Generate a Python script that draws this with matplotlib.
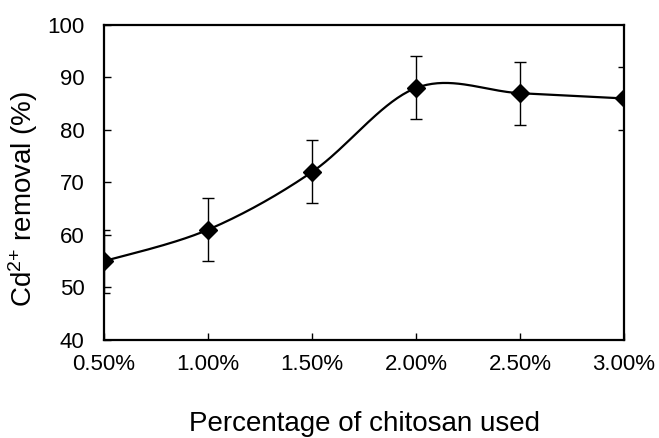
import numpy as np
import matplotlib
matplotlib.use("Agg")
import matplotlib.pyplot as plt

plt.rcParams["font.family"] = ["Liberation Sans", "DejaVu Sans"]
plt.rcParams["mathtext.fontset"] = "custom"
plt.rcParams["mathtext.rm"] = "Liberation Sans"
plt.rcParams["mathtext.it"] = "Liberation Sans"

# Cd2+ removal against chitosan dose
dose = [0.5, 1.0, 1.5, 2.0, 2.5, 3.0]
dose_labels = ["0.50%", "1.00%", "1.50%", "2.00%", "2.50%", "3.00%"]
removal = [55, 61, 72, 88, 87, 86]
removal_err = [6, 6, 6, 6, 6, 6]


def smooth_curve(x, y, n=40):
    # Bezier smoothing through every point (spreadsheet-style smoothed line)
    pts = np.column_stack([np.asarray(x, float), np.asarray(y, float)])
    out = []
    for i in range(len(pts) - 1):
        p0 = pts[max(i - 1, 0)]
        p1 = pts[i]
        p2 = pts[i + 1]
        p3 = pts[min(i + 2, len(pts) - 1)]
        c1 = p1 + (p2 - p0) / 6.0
        c2 = p2 - (p3 - p1) / 6.0
        t = np.linspace(0, 1, n)[:, None]
        seg = ((1 - t) ** 3) * p1 + 3 * ((1 - t) ** 2) * t * c1 \
            + 3 * (1 - t) * t ** 2 * c2 + t ** 3 * p2
        out.append(seg if i == 0 else seg[1:])
    seg = np.vstack(out)
    return seg[:, 0], seg[:, 1]


fig = plt.figure(figsize=(6.59, 4.38), dpi=100)
ax = fig.add_axes([0.158, 0.224, 0.789, 0.719])

sx, sy = smooth_curve(dose, removal)
ax.plot(sx, sy, color="black", lw=1.6, zorder=3)
ax.errorbar(dose, removal, yerr=removal_err, fmt="none", ecolor="black",
            elinewidth=1.0, capsize=4, capthick=1.0, zorder=2)
ax.plot(dose, removal, linestyle="none", marker="D", markersize=9.5,
        color="black", zorder=4)

ax.set_xlim(0.5, 3.0)
ax.set_ylim(40, 100)
ax.set_xticks(dose)
ax.set_xticklabels(dose_labels)
ax.set_yticks(range(40, 101, 10))
ax.tick_params(direction="in", length=5, width=1.0, labelsize=16)
ax.tick_params(axis="x", pad=10)
ax.tick_params(axis="y", pad=14)
for s in ax.spines.values():
    s.set_linewidth(1.6)

ax.set_xlabel("Percentage of chitosan used", fontsize=20, labelpad=26)
ax.set_ylabel(r"Cd$^{2{+}}$ removal (%)", fontsize=20)
ax.yaxis.set_label_coords(-0.123, 0.448)

fig.savefig("out.png", dpi=100)
